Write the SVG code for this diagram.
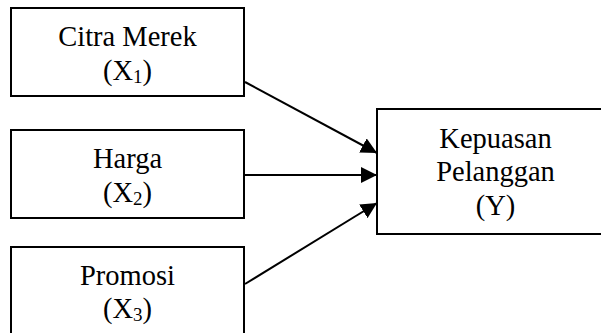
<svg xmlns="http://www.w3.org/2000/svg" width="601" height="333" viewBox="0 0 601 333">
<style>
.box{fill:#fff;stroke:#000;stroke-width:2}
.t{font-family:"Liberation Serif","Times New Roman",serif;font-size:28.5px;fill:#000;text-anchor:middle}
.sub{font-size:19px}
.c{stroke:#000;stroke-width:2;fill:none}
</style>
<defs>
<marker id="ah" markerUnits="userSpaceOnUse" markerWidth="16" markerHeight="16" refX="16" refY="8" orient="auto" viewBox="0 0 16 16">
<path d="M0,0 L16,8 L0,16 Z" fill="#000"/>
</marker>
</defs>
<rect width="601" height="333" fill="#fff"/>
<g id="connectors">
<line class="c" x1="245" y1="82" x2="377" y2="153" marker-end="url(#ah)"/>
<line class="c" x1="245" y1="175" x2="377" y2="175" marker-end="url(#ah)"/>
<line class="c" x1="245" y1="284" x2="377" y2="203" marker-end="url(#ah)"/>
</g>
<g id="citra">
<rect class="box" x="11" y="8" width="233" height="88"/>
<text class="t" x="127.5" y="46">Citra Merek</text>
<text class="t" x="127.5" y="80">(X<tspan class="sub" dy="3">1</tspan><tspan dy="-3">)</tspan></text>
</g>
<g id="harga">
<rect class="box" x="11" y="130" width="233" height="88"/>
<text class="t" x="127.5" y="168">Harga</text>
<text class="t" x="127.5" y="202">(X<tspan class="sub" dy="3">2</tspan><tspan dy="-3">)</tspan></text>
</g>
<g id="promosi">
<rect class="box" x="11" y="247" width="233" height="100"/>
<text class="t" x="127.5" y="285">Promosi</text>
<text class="t" x="127.5" y="318">(X<tspan class="sub" dy="3">3</tspan><tspan dy="-3">)</tspan></text>
</g>
<g id="kepuasan">
<rect class="box" x="377" y="109" width="240" height="125"/>
<text class="t" x="495.5" y="148">Kepuasan</text>
<text class="t" x="495.5" y="181">Pelanggan</text>
<text class="t" x="495.5" y="215">(Y)</text>
</g>
</svg>
